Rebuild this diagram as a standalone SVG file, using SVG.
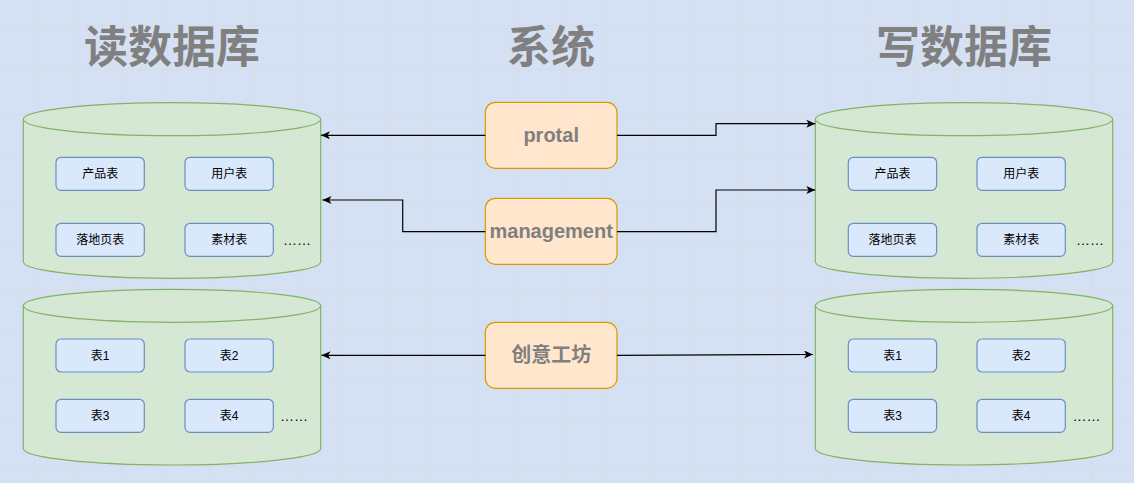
<svg xmlns="http://www.w3.org/2000/svg" width="1134" height="483" viewBox="0 0 1134 483">
<style>
.bg{fill:#d4e1f5}
.cyl{fill:#d5e8d4;stroke:#82b366;stroke-width:1.2}
.cylline{fill:none;stroke:#82b366;stroke-width:1.2}
.tbl{fill:#dae8fc;stroke:#6c8ebf;stroke-width:1.2}
.sys{fill:#ffe6cc;stroke:#d79b00;stroke-width:1.2}
.title{font-family:"Liberation Sans","Noto Sans CJK SC",sans-serif;font-size:44px;font-weight:bold;fill:#808080;text-anchor:middle}
.syst{font-family:"Liberation Sans","Noto Sans CJK SC",sans-serif;font-size:20px;font-weight:bold;fill:#808080;text-anchor:middle}
.tt{font-family:"Liberation Sans","Noto Sans CJK SC",sans-serif;font-size:12px;fill:#000;text-anchor:middle}
.dots{font-family:"Liberation Sans","Noto Sans CJK SC",sans-serif;font-size:14px;fill:#000}
.conn{fill:none;stroke:#000;stroke-width:1.2;marker-end:url(#arr)}
</style>
<defs>
<pattern id="grid" patternUnits="userSpaceOnUse" x="34" y="25.2" width="44.04" height="44.04">
<rect width="44.04" height="44.04" fill="#d4e1f5"/>
<path d="M11.01,0V44.04M22.02,0V44.04M33.03,0V44.04M0,11.01H44.04M0,22.02H44.04M0,33.03H44.04" stroke="#d6dff0" stroke-width="1" fill="none"/>
<path d="M0.5,0V44.04M0,0.5H44.04" stroke="#d9dbe2" stroke-width="1" fill="none"/>
</pattern>
<marker id="arr" markerUnits="userSpaceOnUse" markerWidth="12" markerHeight="10" refX="9" refY="4" orient="auto">
<path d="M0,0 L9,4 L0,8 L2.4,4 Z" fill="#000"/>
</marker>
</defs>
<rect class="bg" width="1134" height="483"/>
<rect width="1134" height="483" fill="url(#grid)"/>

<g id="title-read"><text class="title" x="172" y="63">读数据库</text></g>
<g id="title-system"><text class="title" x="551" y="63">系统</text></g>
<g id="title-write"><text class="title" x="964" y="63">写数据库</text></g>

<g id="db-read-main">
<path class="cyl" d="M23.3,119.2 A148.7,16.5 0 0 1 320.7,119.2 L320.7,261.8 A148.7,16.5 0 0 1 23.3,261.8 Z"/>
<path class="cylline" d="M23.3,119.2 A148.7,16.5 0 0 0 320.7,119.2"/>
<rect class="tbl" x="56" y="157.3" width="88.3" height="33" rx="5"/>
<text class="tt" x="100.2" y="178">产品表</text>
<rect class="tbl" x="185" y="157.3" width="88.3" height="33" rx="5"/>
<text class="tt" x="229.2" y="178">用户表</text>
<rect class="tbl" x="56" y="223.3" width="88.3" height="33" rx="5"/>
<text class="tt" x="100.2" y="244">落地页表</text>
<rect class="tbl" x="185" y="223.3" width="88.3" height="33" rx="5"/>
<text class="tt" x="229.2" y="244">素材表</text>
<text class="dots" x="283" y="245">……</text>
</g>

<g id="db-read-other">
<path class="cyl" d="M23.3,305.8 A148.7,16.5 0 0 1 320.7,305.8 L320.7,448.5 A148.7,16.5 0 0 1 23.3,448.5 Z"/>
<path class="cylline" d="M23.3,305.8 A148.7,16.5 0 0 0 320.7,305.8"/>
<rect class="tbl" x="56" y="339" width="88.3" height="33" rx="5"/>
<text class="tt" x="100.2" y="359.7">表1</text>
<rect class="tbl" x="185" y="339" width="88.3" height="33" rx="5"/>
<text class="tt" x="229.2" y="359.7">表2</text>
<rect class="tbl" x="56" y="399.3" width="88.3" height="33" rx="5"/>
<text class="tt" x="100.2" y="420">表3</text>
<rect class="tbl" x="185" y="399.3" width="88.3" height="33" rx="5"/>
<text class="tt" x="229.2" y="420">表4</text>
<text class="dots" x="280" y="421">……</text>
</g>

<g id="db-write-main">
<path class="cyl" d="M815.3,119.2 A148.7,16.5 0 0 1 1112.7,119.2 L1112.7,261.8 A148.7,16.5 0 0 1 815.3,261.8 Z"/>
<path class="cylline" d="M815.3,119.2 A148.7,16.5 0 0 0 1112.7,119.2"/>
<rect class="tbl" x="848.3" y="157.3" width="88.3" height="33" rx="5"/>
<text class="tt" x="892.5" y="178">产品表</text>
<rect class="tbl" x="977" y="157.3" width="88.3" height="33" rx="5"/>
<text class="tt" x="1021.2" y="178">用户表</text>
<rect class="tbl" x="848.3" y="223.3" width="88.3" height="33" rx="5"/>
<text class="tt" x="892.5" y="244">落地页表</text>
<rect class="tbl" x="977" y="223.3" width="88.3" height="33" rx="5"/>
<text class="tt" x="1021.2" y="244">素材表</text>
<text class="dots" x="1076" y="245">……</text>
</g>

<g id="db-write-other">
<path class="cyl" d="M815.3,305.8 A148.7,16.5 0 0 1 1112.7,305.8 L1112.7,448.5 A148.7,16.5 0 0 1 815.3,448.5 Z"/>
<path class="cylline" d="M815.3,305.8 A148.7,16.5 0 0 0 1112.7,305.8"/>
<rect class="tbl" x="848.3" y="339" width="88.3" height="33" rx="5"/>
<text class="tt" x="892.5" y="359.7">表1</text>
<rect class="tbl" x="977" y="339" width="88.3" height="33" rx="5"/>
<text class="tt" x="1021.2" y="359.7">表2</text>
<rect class="tbl" x="848.3" y="399.3" width="88.3" height="33" rx="5"/>
<text class="tt" x="892.5" y="420">表3</text>
<rect class="tbl" x="977" y="399.3" width="88.3" height="33" rx="5"/>
<text class="tt" x="1021.2" y="420">表4</text>
<text class="dots" x="1072.5" y="421">……</text>
</g>

<g id="sys-protal">
<rect class="sys" x="485.3" y="102.3" width="131.7" height="66" rx="10"/>
<text class="syst" x="551.2" y="142.3">protal</text>
</g>
<g id="sys-management">
<rect class="sys" x="485.3" y="198.3" width="131.7" height="66" rx="10"/>
<text class="syst" x="551.2" y="238.3">management</text>
</g>
<g id="sys-creative">
<rect class="sys" x="485.3" y="322.3" width="131.7" height="66" rx="10"/>
<text class="syst" x="551.2" y="362.3">创意工坊</text>
</g>

<g id="connectors">
<path class="conn" d="M485.3,135.3 H321"/>
<path class="conn" d="M617,135.3 H716 V123.7 H815.3"/>
<path class="conn" d="M485.3,231.7 H402.7 V200 H322.5"/>
<path class="conn" d="M617,231.7 H716 V190 H815.3"/>
<path class="conn" d="M485.3,355.3 H321.5"/>
<path class="conn" d="M617,355.3 L813,354.5"/>
</g>
</svg>
